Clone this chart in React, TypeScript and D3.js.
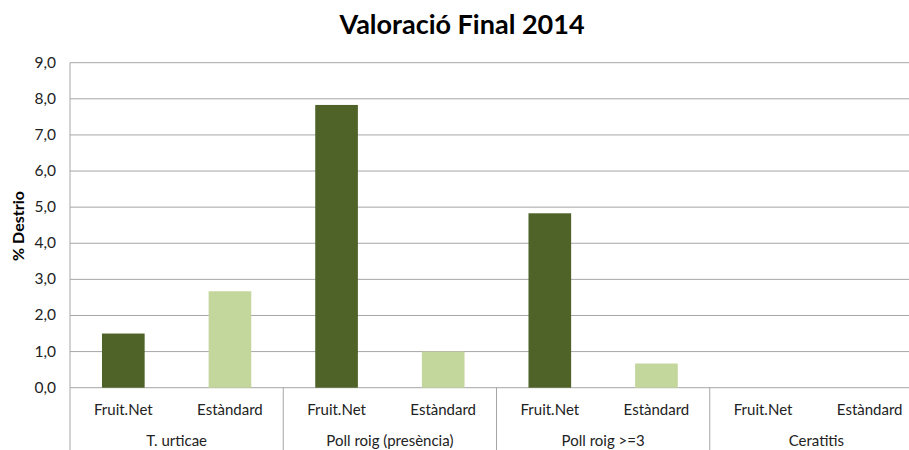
import * as d3 from "d3";
import React from "react";

const groups = ["T. urticae", "Poll roig (presència)", "Poll roig >=3", "Ceratitis"];
const series = ["Fruit.Net", "Estàndard"];
const fruitNet = [1.5, 7.83, 4.83, 0];
const estandard = [2.67, 1.0, 0.67, 0];
const yTicks = [0, 1, 2, 3, 4, 5, 6, 7, 8, 9];

const colors = ["#4F6228", "#C3D69B"];

export default function App() {
    const width = 909;
    const height = 450;
    const left = 70;
    const right = 923;
    const top = 62.7;
    const bottom = 387.7;
    const font = "Lato, 'Open Sans', sans-serif";

    const groupScale = d3.scaleBand()
        .domain(groups)
        .range([left, right]);

    const seriesScale = d3.scaleBand()
        .domain(series)
        .range([0, groupScale.bandwidth()])
        .paddingInner(0.6)
        .paddingOuter(0.3);

    const yScale = d3.scaleLinear()
        .domain([0, 9])
        .range([bottom, top]);

    const fmt = (v: number) => d3.format(".1f")(v).replace(".", ",");
    const values = [fruitNet, estandard];

    return (
        <svg width={width} height={height} style={{position: "absolute", left: 0, top: 0}}>
            <rect x={0} y={0} width={width} height={height} fill="#fff" />
            <text
                x={462}
                y={34}
                textAnchor="middle"
                fontFamily={font}
                fontWeight="bold"
                fontSize={27}
                fill="#000"
            >
                Valoració Final 2014
            </text>
            {
                yTicks.map((t) => (
                    <g key={t}>
                        <line
                            x1={left}
                            x2={right}
                            y1={yScale(t)}
                            y2={yScale(t)}
                            stroke="#A6A6A6"
                            strokeWidth={1}
                        />
                        <text
                            x={56}
                            y={yScale(t) + 5}
                            textAnchor="end"
                            fontFamily={font}
                            fontSize={15.5}
                            fill="#222"
                        >
                            {fmt(t)}
                        </text>
                    </g>
                ))
            }
            <line x1={left} x2={left} y1={top} y2={height} stroke="#A6A6A6" />
            {
                groups.map((g) => (
                    <line
                        key={g}
                        x1={groupScale(g)! + groupScale.bandwidth()}
                        x2={groupScale(g)! + groupScale.bandwidth()}
                        y1={bottom}
                        y2={height}
                        stroke="#A6A6A6"
                    />
                ))
            }
            {
                groups.map((g, gi) =>
                    series.map((s, si) => {
                        const v = values[si][gi];
                        const x = groupScale(g)! + seriesScale(s)!;
                        return v > 0 ? (
                            <rect
                                key={`${g}-${s}`}
                                x={x}
                                y={yScale(v)}
                                width={seriesScale.bandwidth()}
                                height={bottom - yScale(v)}
                                fill={colors[si]}
                            />
                        ) : null;
                    })
                )
            }
            {
                groups.map((g) =>
                    series.map((s) => (
                        <text
                            key={`${g}-${s}-label`}
                            x={groupScale(g)! + seriesScale(s)! + seriesScale.bandwidth() / 2}
                            y={415}
                            textAnchor="middle"
                            fontFamily={font}
                            fontSize={15}
                            fill="#222"
                        >
                            {s}
                        </text>
                    ))
                )
            }
            {
                groups.map((g) => (
                    <text
                        key={`${g}-group`}
                        x={groupScale(g)! + groupScale.bandwidth() / 2}
                        y={446}
                        textAnchor="middle"
                        fontFamily={font}
                        fontSize={15}
                        fill="#222"
                    >
                        {g}
                    </text>
                ))
            }
            <text
                transform={`translate(24, 226) rotate(-90)`}
                textAnchor="middle"
                fontFamily={font}
                fontWeight="bold"
                fontSize={16}
                fill="#000"
            >
                % Destrio
            </text>
        </svg>
    );
}
